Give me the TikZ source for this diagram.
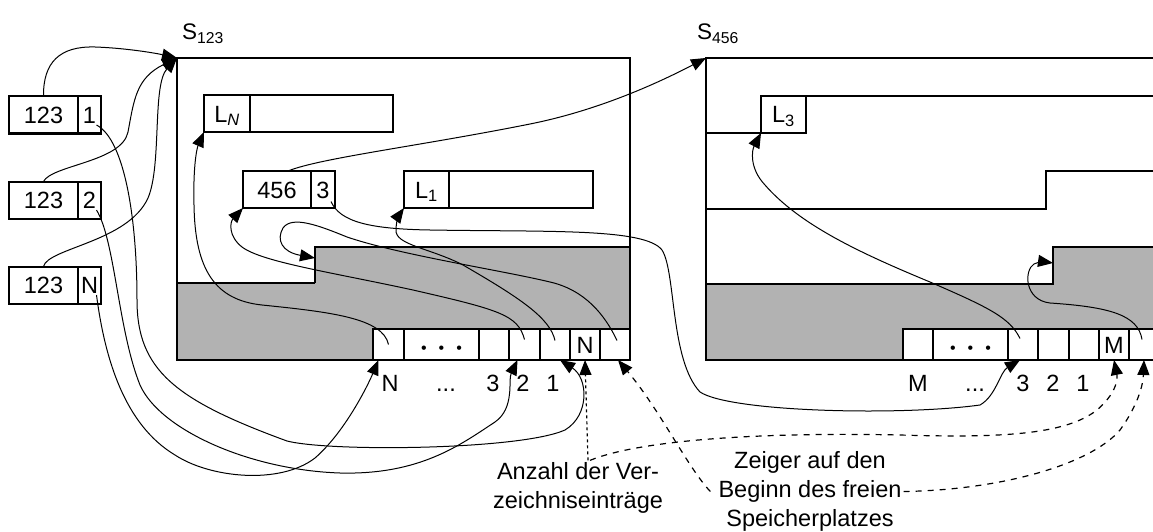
\documentclass[tikz,border=0pt]{standalone}
\usepackage{fontspec}
\setmainfont{Liberation Sans}
\usetikzlibrary{arrows.meta}
\definecolor{freegrey}{RGB}{178,178,178}

\begin{document}
\begin{tikzpicture}[x=1pt, y=-1pt,
  font=\fontsize{23.5}{29}\selectfont,
  sheet/.style={draw, line width=2pt, inner sep=0pt, outer sep=0pt},
  cell/.style={draw, line width=2pt, fill=white, inner sep=0pt, outer sep=0pt,
    minimum height=37pt, text height=17pt, text depth=0pt},
  slot/.style={cell, minimum height=31pt},
  ptr/.style={line width=1pt, -{Triangle[length=15pt,width=12pt]}},
  hint/.style={ptr, line width=1.2pt, dash pattern=on 6pt off 6pt}]
\useasboundingbox (0,0) rectangle (1153,532);

% free and used space of both pages
\fill[freegrey] (177,283) -- (315,283) -- (315,247) -- (630,247) -- (630,360) -- (177,360) -- cycle;
\fill[freegrey] (706,284) -- (1053,284) -- (1053,247) -- (1160,247) -- (1160,360) -- (706,360) -- cycle;
\draw[line width=1.2pt] (177,283) -- (315,283);
\draw[line width=2pt] (315,283) -- (315,247) -- (630,247);
\draw[line width=2pt] (706,284) -| (1053,247) -- (1160,247);
\draw[line width=2pt] (706,209) -| (1046,171) -- (1160,171);

\node[sheet, minimum width=453pt, minimum height=302pt] (p1) at (403.5,209) {};
\node[sheet, minimum width=454pt, minimum height=302pt] (p2) at (933,209) {};
\node[anchor=base, font=\fontsize{22.5}{26}\selectfont] (t1) at (203,40) {S\textsubscript{123}};
\node[anchor=base, font=\fontsize{22.5}{26}\selectfont] (t2) at (718,40) {S\textsubscript{456}};

% references from outside
\node[cell, minimum width=69pt] (k1) at (43.5,115) {123};
\node[cell, minimum width=23pt] (i1) at (89.5,115) {1};
\node[cell, minimum width=69pt] (k2) at (43.5,200) {123};
\node[cell, minimum width=23pt] (i2) at (89.5,200) {2};
\node[cell, minimum width=69pt] (k3) at (43.5,285) {123};
\node[cell, minimum width=23pt] (i3) at (89.5,285) {N};

% records on page 123
\node[cell, minimum width=46pt] (ln) at (227,113.5) {L\textsubscript{\itshape N}};
\node[cell, minimum width=143pt] (lnd) at (321.5,113.5) {};
\node[cell, minimum width=68pt] (ra) at (277,189.5) {456};
\node[cell, minimum width=24pt] (rb) at (323,189.5) {3};
\node[cell, minimum width=45pt] (l1) at (426.5,189.5) {L\textsubscript{1}};
\node[cell, minimum width=144pt] (l1d) at (521,189.5) {};

% record on page 456
\node[cell, minimum width=45pt] (l3) at (783.5,114.5) {L\textsubscript{3}};
\draw[line width=2pt] (l3.north east) -- (1160,96);
\draw[line width=1.2pt] (706,133) -- (l3.south west);

% directory of page 123
\node[slot, minimum width=31pt] (a1) at (388.5,344.5) {};
\node[slot, minimum width=75pt] (a2) at (441.5,344.5) {\fontsize{16}{16}\selectfont\textbullet\hspace{12pt}\textbullet\hspace{12pt}\textbullet};
\node[slot, minimum width=30pt] (a3) at (494,344.5) {};
\node[slot, minimum width=31pt] (a4) at (524.5,344.5) {};
\node[slot, minimum width=30pt] (a5) at (555,344.5) {};
\node[slot, minimum width=30pt] (a6) at (585,344.5) {N};
\node[slot, minimum width=30pt] (a7) at (615,344.5) {};
\node[anchor=base] (m1) at (390,391) {N};
\node[anchor=base] (m2) at (446,391) {...};
\node[anchor=base] (m3) at (493,391) {3};
\node[anchor=base] (m4) at (523,391) {2};
\node[anchor=base] (m5) at (553,391) {1};

% directory of page 456
\node[slot, minimum width=30pt] (b1) at (918,344.5) {};
\node[slot, minimum width=75pt] (b2) at (970.5,344.5) {\fontsize{16}{16}\selectfont\textbullet\hspace{12pt}\textbullet\hspace{12pt}\textbullet};
\node[slot, minimum width=30pt] (b3) at (1023,344.5) {};
\node[slot, minimum width=31pt] (b4) at (1053.5,344.5) {};
\node[slot, minimum width=30pt] (b5) at (1084,344.5) {};
\node[slot, minimum width=30pt] (b6) at (1114,344.5) {M};
\node[slot, minimum width=30pt] (b7) at (1144,344.5) {};
\node[anchor=base] (n1) at (918,391) {M};
\node[anchor=base] (n2) at (975,391) {...};
\node[anchor=base] (n3) at (1023,391) {3};
\node[anchor=base] (n4) at (1053,391) {2};
\node[anchor=base] (n5) at (1083,391) {1};

\node[align=center, inner sep=2pt] (anz) at (578,488) {Anzahl der Ver-\\zeichniseinträge};
\node[align=center, inner sep=2pt] (zg) at (810,491.5) {Zeiger auf den\\Beginn des freien\\Speicherplatzes};

\coordinate (f1) at (315,258);
\coordinate (f2) at (1053,263);

% page references
\draw[ptr] (k1.north) .. controls (43,62) and (60,46) .. (95,47) .. controls (125,48) and (155,53) .. (p1.north west);
\draw[ptr] (k2.north) .. controls (52,165) and (122,162) .. (128,132) .. controls (134,100) and (136,78) .. (p1.north west);
\draw[ptr] (k3.north) .. controls (48,248) and (128,242) .. (148,198) .. controls (162,165) and (152,85) .. (p1.north west);
\draw[ptr] ([shift={(7,10)}]i1.center) .. controls (125,140) and (137,220) .. (137,300) .. controls (137,370) and (175,400) .. (287,441) .. controls (330,452) and (520,450) .. (565,430) .. controls (590,415) and (588,378) .. ([shift={(5,0)}]a5.south);
\draw[ptr] ([shift={(7,10)}]i2.center) .. controls (115,240) and (118,330) .. (140,385) .. controls (160,430) and (250,470) .. (340,473) .. controls (420,475) and (460,445) .. (495,422) .. controls (515,408) and (508,380) .. ([shift={(-7,0)}]a4.south);
\draw[ptr] ([shift={(7,10)}]i3.center) .. controls (105,360) and (125,425) .. (175,455) .. controls (210,478) and (280,485) .. (315,458) .. controls (345,432) and (368,385) .. ([shift={(-10,0)}]a1.south);

% directory entries of page 123
\draw[ptr] (a1.center) .. controls (383,318) and (330,312) .. (262,305) .. controls (215,300) and (195,270) .. (194,205) .. controls (193,165) and (197,148) .. (ln.south west);
\draw[ptr] ([shift={(0,-5)}]a4.center) .. controls (518,315) and (500,310) .. (413,290) .. controls (330,272) and (262,262) .. (242,247) .. controls (228,236) and (230,222) .. (ra.south west);
\draw[ptr] ([shift={(0,-4)}]a5.center) .. controls (550,318) and (520,298) .. (463,265) .. controls (430,248) and (395,245) .. (396,230) .. controls (396,222) and (399,215) .. (l1.south west);
\draw[ptr] ([shift={(2,-4)}]a7.center) .. controls (605,315) and (585,290) .. (550,282) .. controls (500,270) and (400,255) .. (347,237) .. controls (320,226) and (292,215) .. (283,228) .. controls (276,240) and (282,252) .. (f1);

% overflow record to page 456
\draw[ptr] ([shift={(11,0)}]ra.north) .. controls (320,158) and (420,146) .. (530,124) .. controls (600,110) and (660,82) .. (p2.north west);
\draw[ptr] ([shift={(8,12)}]rb.center) .. controls (340,222) and (370,229) .. (430,230) .. controls (550,232) and (645,228) .. (662,250) .. controls (676,272) and (670,360) .. (700,392) .. controls (730,412) and (900,416) .. (980,405) .. controls (996,396) and (1000,372) .. ([shift={(-3,0)}]b3.south);

% directory entries of page 456
\draw[ptr] ([shift={(-3,-6)}]b3.center) .. controls (1010,318) and (990,308) .. (930,282) .. controls (860,253) and (800,225) .. (765,185) .. controls (749,168) and (752,150) .. (l3.south west);
\draw[ptr] ([shift={(-2,-5)}]b7.center) .. controls (1138,315) and (1110,307) .. (1050,303) .. controls (1024,300) and (1024,270) .. (1034,264) .. controls (1040,261) and (1046,262) .. (f2);

% explanations
\draw[hint, dash pattern=on 3pt off 3pt] ([shift={(10,0)}]anz.north) -- (a6.south);
\draw[hint] ([shift={(12,0)}]anz.north) .. controls (640,440) and (760,432) .. (900,435) .. controls (1000,438) and (1065,435) .. (1097,410) .. controls (1120,390) and (1117,375) .. (b6.south);
\draw[hint] ([shift={(-6,0)}]zg.west) .. controls (688,468) and (660,410) .. ([shift={(3,0)}]a7.south);
\draw[hint] (zg.east) .. controls (1000,490) and (1090,465) .. (1120,430) .. controls (1138,405) and (1143,385) .. (b7.south);
\end{tikzpicture}
\end{document}
